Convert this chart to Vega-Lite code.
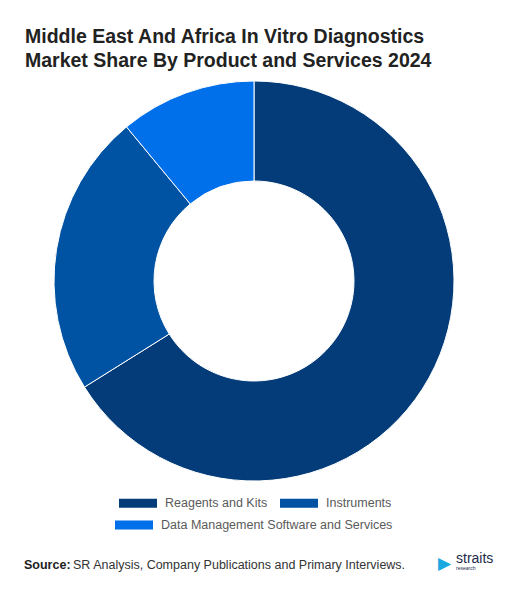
{
  "$schema": "https://vega.github.io/schema/vega-lite/v6.json",
  "background": "white",
  "padding": {"left": 24, "top": 26, "right": 0, "bottom": 0},
  "title": {
    "text": ["Middle East And Africa In Vitro Diagnostics", "Market Share By Product and Services 2024"],
    "anchor": "start",
    "font": "Liberation Sans",
    "fontSize": 19.5,
    "fontWeight": "bold",
    "color": "#222222",
    "lineHeight": 24,
    "offset": 8,
    "dx": 1
  },
  "spacing": 20,
  "resolve": {
    "scale": {"color": "independent", "fill": "independent"},
    "legend": {"color": "independent", "fill": "independent"}
  },
  "vconcat": [
    {
      "width": 460,
      "height": 400,
      "data": {
        "values": [
          {"category": "Reagents and Kits", "share": 66.1},
          {"category": "Instruments", "share": 22.9},
          {"category": "Data Management Software and Services", "share": 11.0}
        ]
      },
      "encoding": {
        "theta": {"field": "share", "type": "quantitative", "stack": true},
        "order": {"field": "category", "type": "ordinal", "sort": "descending"},
        "tooltip": [
          {"field": "category", "type": "nominal", "title": "Product"},
          {"field": "share", "type": "quantitative", "title": "Share (%)"}
        ]
      },
      "layer": [
        {
          "mark": {"type": "arc", "radius": 200, "innerRadius": 100, "stroke": "white", "strokeWidth": 1},
          "encoding": {
            "color": {
              "field": "category",
              "type": "nominal",
              "scale": {
                "domain": ["Reagents and Kits", "Instruments", "Data Management Software and Services"],
                "range": ["#033c79", "#0052a2", "#006fea"]
              },
              "legend": {
                "title": null,
                "orient": "none",
                "legendX": 95,
                "legendY": 403,
                "direction": "horizontal",
                "values": ["Reagents and Kits", "Instruments"],
                "symbolType": "M-1,-0.24H1V0.24H-1Z",
                "symbolSize": 1444,
                "symbolStrokeWidth": 0,
                "labelFont": "Liberation Sans",
                "labelFontSize": 12.5,
                "labelColor": "#5a5a5a",
                "labelOffset": 8,
                "labelLimit": 300,
                "columnPadding": 12
              }
            }
          }
        },
        {
          "mark": {"type": "arc", "radius": 200, "innerRadius": 100, "stroke": "white", "strokeWidth": 1},
          "encoding": {
            "fill": {
              "field": "category",
              "type": "nominal",
              "scale": {
                "domain": ["Data Management Software and Services", "Reagents and Kits", "Instruments"],
                "range": ["#006fea", "#033c79", "#0052a2"]
              },
              "legend": {
                "title": null,
                "orient": "none",
                "legendX": 91,
                "legendY": 425,
                "direction": "horizontal",
                "values": ["Data Management Software and Services"],
                "symbolType": "M-1,-0.24H1V0.24H-1Z",
                "symbolSize": 1444,
                "symbolStrokeWidth": 0,
                "labelFont": "Liberation Sans",
                "labelFontSize": 12.5,
                "labelColor": "#5a5a5a",
                "labelOffset": 8,
                "labelLimit": 300
              }
            }
          }
        }
      ]
    },
    {
      "hconcat": [
        {
          "hconcat": [
            {
              "width": 46,
              "height": 1,
              "data": {"values": []},
              "mark": "point",
              "title": {"text": "Source:", "anchor": "start", "font": "Liberation Sans", "fontSize": 12.5, "fontWeight": "bold", "color": "#222222", "offset": 0}
            },
            {
              "width": 333,
              "height": 1,
              "data": {"values": []},
              "mark": "point",
              "title": {"text": "SR Analysis, Company Publications and Primary Interviews.", "anchor": "start", "font": "Liberation Sans", "fontSize": 12.5, "fontWeight": "normal", "color": "#333333", "offset": 0}
            }
          ],
          "spacing": 2
        },
        {
          "hconcat": [
            {
              "width": 16,
              "height": 1,
              "data": {"values": []},
              "mark": "point",
              "title": {"text": "▶", "anchor": "start", "font": "DejaVu Sans", "fontSize": 17, "color": "#1aa8e0", "offset": 0, "dy": 2}
            },
            {
              "width": 36,
              "height": 1,
              "data": {"values": []},
              "mark": "point",
              "title": {
                "text": "straits",
                "subtitle": "research",
                "anchor": "start",
                "font": "Liberation Sans",
                "fontSize": 14,
                "fontWeight": "normal",
                "color": "#1b2a4a",
                "subtitleFont": "Liberation Sans",
                "subtitleFontSize": 5,
                "subtitleColor": "#1b2a4a",
                "subtitlePadding": 0,
                "offset": 0
              }
            }
          ],
          "spacing": 2
        }
      ],
      "spacing": 32
    }
  ],
  "config": {"view": {"stroke": null}}
}
